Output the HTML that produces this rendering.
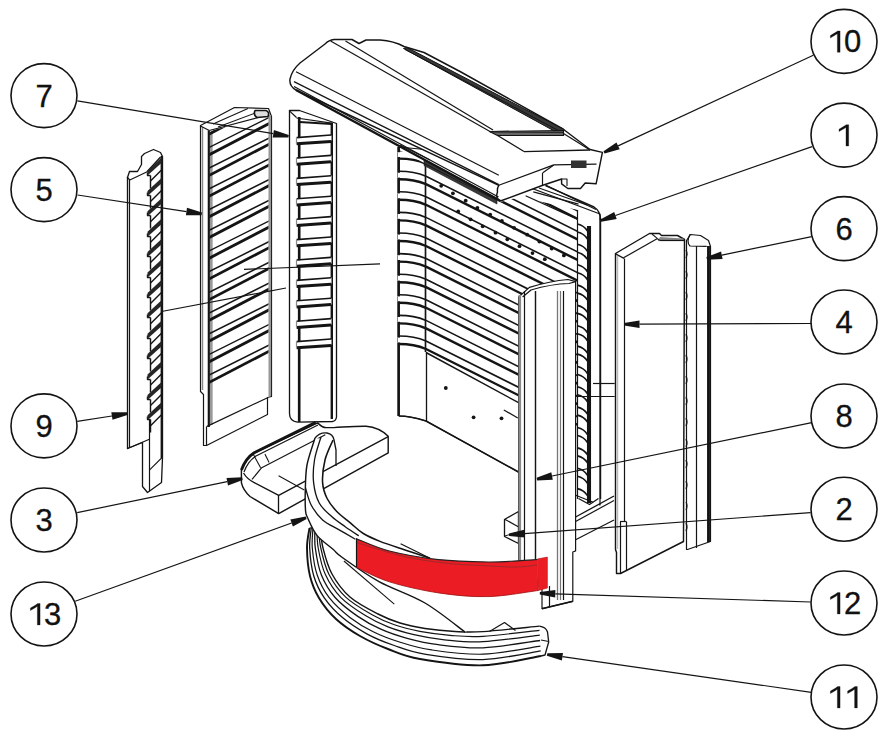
<!DOCTYPE html>
<html><head><meta charset="utf-8"><style>
html,body{margin:0;padding:0;background:#fff;}
body{width:892px;height:751px;overflow:hidden;font-family:"Liberation Sans",sans-serif;}
svg{display:block;}
</style></head><body>
<svg width="892" height="751" viewBox="0 0 892 751"><path d="M399,147 L430,150 L600,214 L600,505 L519,472.5 L426,421 Q410,416 399,416 Z" fill="#fff" stroke="#141414" stroke-width="1.20" stroke-linejoin="round" />
<line x1="398.6" y1="147.0" x2="398.6" y2="416.0" stroke="#141414" stroke-width="2.64" />
<line x1="425.5" y1="160.0" x2="425.5" y2="352.0" stroke="#141414" stroke-width="1.68" />
<polygon points="424,159.5 497,198 497,204 424,165.5" fill="#3a3a3a" stroke="#111" stroke-width="0.6"/>
<line x1="400.0" y1="145.0" x2="430.0" y2="160.0" stroke="#141414" stroke-width="1.20" />
<clipPath id="c1"><polygon points="399,150 500,202 520,197 578,210 578,505 520,470 426,352.5 399,352"/></clipPath>
<g clip-path="url(#c1)"><path d="M399,109.4 C410,109.4 419,111.4 426,114.4 L600,201.4" fill="none" stroke="#141414" stroke-width="1.6"/><path d="M399,117.4 C410,117.4 419,119.4 426,122.4 L600,209.4" fill="none" stroke="#141414" stroke-width="2.4"/><path d="M399,130.0 C410,130.0 419,132.0 426,135.0 L600,222.0" fill="none" stroke="#141414" stroke-width="1.6"/><path d="M399,138.0 C410,138.0 419,140.0 426,143.0 L600,230.0" fill="none" stroke="#141414" stroke-width="2.4"/><path d="M399,150.6 C410,150.6 419,152.6 426,155.6 L600,242.6" fill="none" stroke="#141414" stroke-width="1.6"/><path d="M399,158.6 C410,158.6 419,160.6 426,163.6 L600,250.6" fill="none" stroke="#141414" stroke-width="2.4"/><path d="M399,171.2 C410,171.2 419,173.2 426,176.2 L600,263.2" fill="none" stroke="#141414" stroke-width="1.6"/><path d="M399,179.2 C410,179.2 419,181.2 426,184.2 L600,271.2" fill="none" stroke="#141414" stroke-width="2.4"/><path d="M399,191.8 C410,191.8 419,193.8 426,196.8 L600,283.8" fill="none" stroke="#141414" stroke-width="1.6"/><path d="M399,199.8 C410,199.8 419,201.8 426,204.8 L600,291.8" fill="none" stroke="#141414" stroke-width="2.4"/><path d="M399,212.4 C410,212.4 419,214.4 426,217.4 L600,304.4" fill="none" stroke="#141414" stroke-width="1.6"/><path d="M399,220.4 C410,220.4 419,222.4 426,225.4 L600,312.4" fill="none" stroke="#141414" stroke-width="2.4"/><path d="M399,233.0 C410,233.0 419,235.0 426,238.0 L600,325.0" fill="none" stroke="#141414" stroke-width="1.6"/><path d="M399,241.0 C410,241.0 419,243.0 426,246.0 L600,333.0" fill="none" stroke="#141414" stroke-width="2.4"/><path d="M399,253.6 C410,253.6 419,255.6 426,258.6 L600,345.6" fill="none" stroke="#141414" stroke-width="1.6"/><path d="M399,261.6 C410,261.6 419,263.6 426,266.6 L600,353.6" fill="none" stroke="#141414" stroke-width="2.4"/><path d="M399,274.2 C410,274.2 419,276.2 426,279.2 L600,366.2" fill="none" stroke="#141414" stroke-width="1.6"/><path d="M399,282.2 C410,282.2 419,284.2 426,287.2 L600,374.2" fill="none" stroke="#141414" stroke-width="2.4"/><path d="M399,294.8 C410,294.8 419,296.8 426,299.8 L600,386.8" fill="none" stroke="#141414" stroke-width="1.6"/><path d="M399,302.8 C410,302.8 419,304.8 426,307.8 L600,394.8" fill="none" stroke="#141414" stroke-width="2.4"/><path d="M399,315.4 C410,315.4 419,317.4 426,320.4 L600,407.4" fill="none" stroke="#141414" stroke-width="1.6"/><path d="M399,323.4 C410,323.4 419,325.4 426,328.4 L600,415.4" fill="none" stroke="#141414" stroke-width="2.4"/><path d="M399,336.0 C410,336.0 419,338.0 426,341.0 L600,428.0" fill="none" stroke="#141414" stroke-width="1.6"/><path d="M399,344.0 C410,344.0 419,346.0 426,349.0 L600,436.0" fill="none" stroke="#141414" stroke-width="2.4"/></g>
<rect x="397" y="152.2" width="3.2" height="4.8" fill="#fff"/>
<line x1="397.5" y1="152.2" x2="397.5" y2="157.0" stroke="#888" stroke-width="1"/>
<rect x="397" y="172.8" width="3.2" height="4.8" fill="#fff"/>
<line x1="397.5" y1="172.8" x2="397.5" y2="177.6" stroke="#888" stroke-width="1"/>
<rect x="397" y="193.4" width="3.2" height="4.8" fill="#fff"/>
<line x1="397.5" y1="193.4" x2="397.5" y2="198.2" stroke="#888" stroke-width="1"/>
<rect x="397" y="214.0" width="3.2" height="4.8" fill="#fff"/>
<line x1="397.5" y1="214.0" x2="397.5" y2="218.8" stroke="#888" stroke-width="1"/>
<rect x="397" y="234.6" width="3.2" height="4.8" fill="#fff"/>
<line x1="397.5" y1="234.6" x2="397.5" y2="239.4" stroke="#888" stroke-width="1"/>
<rect x="397" y="255.2" width="3.2" height="4.8" fill="#fff"/>
<line x1="397.5" y1="255.2" x2="397.5" y2="260.0" stroke="#888" stroke-width="1"/>
<rect x="397" y="275.8" width="3.2" height="4.8" fill="#fff"/>
<line x1="397.5" y1="275.8" x2="397.5" y2="280.6" stroke="#888" stroke-width="1"/>
<rect x="397" y="296.4" width="3.2" height="4.8" fill="#fff"/>
<line x1="397.5" y1="296.4" x2="397.5" y2="301.2" stroke="#888" stroke-width="1"/>
<rect x="397" y="317.0" width="3.2" height="4.8" fill="#fff"/>
<line x1="397.5" y1="317.0" x2="397.5" y2="321.8" stroke="#888" stroke-width="1"/>
<rect x="397" y="337.6" width="3.2" height="4.8" fill="#fff"/>
<line x1="397.5" y1="337.6" x2="397.5" y2="342.4" stroke="#888" stroke-width="1"/>
<line x1="426.0" y1="352.5" x2="519.5" y2="403.2" stroke="#141414" stroke-width="1.44" />
<line x1="426.5" y1="352.0" x2="426.5" y2="421.0" stroke="#141414" stroke-width="1.32" />
<line x1="503.8" y1="409.9" x2="517.8" y2="417.9" stroke="#141414" stroke-width="1.20" />
<circle cx="441.2" cy="185.8" r="1.9" fill="#141414"/>
<circle cx="452.9" cy="193.3" r="1.9" fill="#141414"/>
<circle cx="465.7" cy="200.7" r="1.9" fill="#141414"/>
<circle cx="477.4" cy="207.8" r="1.9" fill="#141414"/>
<circle cx="490.2" cy="214.6" r="1.9" fill="#141414"/>
<circle cx="501.9" cy="221" r="1.9" fill="#141414"/>
<circle cx="514.1" cy="227.8" r="1.9" fill="#141414"/>
<circle cx="527.2" cy="234.7" r="1.9" fill="#141414"/>
<circle cx="539.4" cy="241.6" r="1.9" fill="#141414"/>
<circle cx="551.7" cy="248.5" r="1.9" fill="#141414"/>
<circle cx="563.9" cy="255.4" r="1.9" fill="#141414"/>
<circle cx="458.2" cy="211.4" r="1.9" fill="#141414"/>
<circle cx="470.6" cy="219.3" r="1.9" fill="#141414"/>
<circle cx="482.7" cy="226.3" r="1.9" fill="#141414"/>
<circle cx="495.5" cy="232.7" r="1.9" fill="#141414"/>
<circle cx="507.3" cy="239.3" r="1.9" fill="#141414"/>
<circle cx="519.5" cy="246.2" r="1.9" fill="#141414"/>
<circle cx="532.5" cy="253.1" r="1.9" fill="#141414"/>
<circle cx="544.8" cy="259.2" r="1.9" fill="#141414"/>
<circle cx="445.8" cy="388" r="1.9" fill="#141414"/>
<circle cx="473.6" cy="417.3" r="1.9" fill="#141414"/>
<circle cx="501.5" cy="418.3" r="1.9" fill="#141414"/>
<path d="M399,416 Q410,416 426,421 L519.5,472.5" fill="none" stroke="#141414" stroke-width="1.44" stroke-linejoin="round" />
<line x1="525.6" y1="195.7" x2="577.7" y2="219.4" stroke="#141414" stroke-width="1.20" />
<line x1="533.3" y1="191.8" x2="578.5" y2="204.1" stroke="#141414" stroke-width="1.20" />
<line x1="545.5" y1="185.0" x2="596.0" y2="209.5" stroke="#141414" stroke-width="1.20" />
<line x1="539.0" y1="188.0" x2="587.0" y2="205.0" stroke="#141414" stroke-width="1.20" />
<line x1="577.5" y1="210.0" x2="577.5" y2="499.0" stroke="#141414" stroke-width="1.20" />
<line x1="589.0" y1="226.0" x2="589.0" y2="503.0" stroke="#141414" stroke-width="4.08" />
<line x1="600.5" y1="218.0" x2="600.5" y2="499.0" stroke="#141414" stroke-width="1.44" />
<path d="M545.5,185.7 L594,207 Q600.5,211 600.5,220" fill="none" stroke="#141414" stroke-width="1.44" stroke-linejoin="round" />
<path d="M577.5,224.0 Q584,225.5 587.5,231.0" fill="none" stroke="#141414" stroke-width="1.68" stroke-linejoin="round" />
<path d="M577.5,232.0 Q584,233.5 587.5,239.0" fill="none" stroke="#141414" stroke-width="1.68" stroke-linejoin="round" />
<path d="M577.5,244.3 Q584,245.8 587.5,251.3" fill="none" stroke="#141414" stroke-width="1.68" stroke-linejoin="round" />
<path d="M577.5,252.3 Q584,253.8 587.5,259.4" fill="none" stroke="#141414" stroke-width="1.68" stroke-linejoin="round" />
<path d="M577.5,264.7 Q584,266.2 587.5,271.7" fill="none" stroke="#141414" stroke-width="1.68" stroke-linejoin="round" />
<path d="M577.5,272.7 Q584,274.2 587.5,279.7" fill="none" stroke="#141414" stroke-width="1.68" stroke-linejoin="round" />
<path d="M577.5,285.1 Q584,286.6 587.5,292.1" fill="none" stroke="#141414" stroke-width="1.68" stroke-linejoin="round" />
<path d="M577.5,293.1 Q584,294.6 587.5,300.1" fill="none" stroke="#141414" stroke-width="1.68" stroke-linejoin="round" />
<path d="M577.5,305.4 Q584,306.9 587.5,312.4" fill="none" stroke="#141414" stroke-width="1.68" stroke-linejoin="round" />
<path d="M577.5,313.4 Q584,314.9 587.5,320.4" fill="none" stroke="#141414" stroke-width="1.68" stroke-linejoin="round" />
<path d="M577.5,325.8 Q584,327.2 587.5,332.8" fill="none" stroke="#141414" stroke-width="1.68" stroke-linejoin="round" />
<path d="M577.5,333.8 Q584,335.2 587.5,340.8" fill="none" stroke="#141414" stroke-width="1.68" stroke-linejoin="round" />
<path d="M577.5,346.1 Q584,347.6 587.5,353.1" fill="none" stroke="#141414" stroke-width="1.68" stroke-linejoin="round" />
<path d="M577.5,354.1 Q584,355.6 587.5,361.1" fill="none" stroke="#141414" stroke-width="1.68" stroke-linejoin="round" />
<path d="M577.5,366.5 Q584,368.0 587.5,373.5" fill="none" stroke="#141414" stroke-width="1.68" stroke-linejoin="round" />
<path d="M577.5,374.5 Q584,376.0 587.5,381.5" fill="none" stroke="#141414" stroke-width="1.68" stroke-linejoin="round" />
<path d="M577.5,386.8 Q584,388.3 587.5,393.8" fill="none" stroke="#141414" stroke-width="1.68" stroke-linejoin="round" />
<path d="M577.5,394.8 Q584,396.3 587.5,401.8" fill="none" stroke="#141414" stroke-width="1.68" stroke-linejoin="round" />
<path d="M577.5,407.1 Q584,408.6 587.5,414.1" fill="none" stroke="#141414" stroke-width="1.68" stroke-linejoin="round" />
<path d="M577.5,415.1 Q584,416.6 587.5,422.1" fill="none" stroke="#141414" stroke-width="1.68" stroke-linejoin="round" />
<path d="M577.5,427.5 Q584,429.0 587.5,434.5" fill="none" stroke="#141414" stroke-width="1.68" stroke-linejoin="round" />
<path d="M577.5,435.5 Q584,437.0 587.5,442.5" fill="none" stroke="#141414" stroke-width="1.68" stroke-linejoin="round" />
<path d="M577.5,447.9 Q584,449.4 587.5,454.9" fill="none" stroke="#141414" stroke-width="1.68" stroke-linejoin="round" />
<path d="M577.5,455.9 Q584,457.4 587.5,462.9" fill="none" stroke="#141414" stroke-width="1.68" stroke-linejoin="round" />
<path d="M577.5,468.2 Q584,469.7 587.5,475.2" fill="none" stroke="#141414" stroke-width="1.68" stroke-linejoin="round" />
<path d="M577.5,476.2 Q584,477.7 587.5,483.2" fill="none" stroke="#141414" stroke-width="1.68" stroke-linejoin="round" />
<path d="M577.5,488.6 Q584,490.1 587.5,495.6" fill="none" stroke="#141414" stroke-width="1.68" stroke-linejoin="round" />
<line x1="593.0" y1="383.5" x2="614.7" y2="383.5" stroke="#141414" stroke-width="1.20" />
<line x1="575.0" y1="396.5" x2="614.7" y2="396.5" stroke="#141414" stroke-width="1.20" />
<polygon points="577.7,498.7 589.6,504.3 599,498.7 599,506 578,506" fill="#fff" stroke="none"/>
<polyline points="578.5,498.5 589.5,504.5 598.5,498.5" fill="none" stroke="#141414" stroke-width="1.32" stroke-linejoin="round" />
<line x1="575.6" y1="517.0" x2="614.0" y2="496.0" stroke="#141414" stroke-width="1.32" />
<line x1="575.6" y1="521.5" x2="614.0" y2="500.5" stroke="#141414" stroke-width="1.20" />
<line x1="575.6" y1="539.7" x2="614.0" y2="520.0" stroke="#141414" stroke-width="1.20" />
<path d="M334,39.5 L352,39.5 L359,43.5 L366,40 L380,40 Q394,41 404,46.5 L424,52.5 L460,71.5 L563,129 L590,149.5 L602.4,152.4 L596.1,183.8 L585.2,183 L580.5,188.5 L567.9,188.5 L561.6,183.8 L561.6,179 L542.8,185.3 L500.4,201 Q495,198 497.5,192 Q497,188 498.8,185.3 L296,90 Q289,86 290,79 Q292,70 300,63 L325,44 Q329,40 334,39.5 Z" fill="#fff" stroke="#141414" stroke-width="1.44" stroke-linejoin="round" />
<line x1="296.0" y1="90.0" x2="500.4" y2="201.0" stroke="#141414" stroke-width="2.40" />
<line x1="294.0" y1="86.5" x2="498.5" y2="197.0" stroke="#141414" stroke-width="1.20" />
<line x1="296.0" y1="71.7" x2="498.8" y2="175.2" stroke="#141414" stroke-width="1.20" />
<line x1="294.0" y1="81.6" x2="498.8" y2="184.6" stroke="#141414" stroke-width="1.20" />
<line x1="345.5" y1="41.0" x2="493.0" y2="130.0" stroke="#141414" stroke-width="1.20" />
<line x1="330.6" y1="41.0" x2="490.0" y2="131.5" stroke="#141414" stroke-width="1.20" />
<line x1="497.6" y1="135.4" x2="524.0" y2="151.6" stroke="#141414" stroke-width="1.20" />
<polygon points="403.5,48.5 407,47.5 564,129.5 562.5,135.5" fill="#383838" stroke="#141414" stroke-width="1.0"/>
<line x1="405.0" y1="49.5" x2="563.0" y2="133.0" stroke="#111" stroke-width="0.84" />
<polygon points="489.5,131.5 563.5,130.5 563.5,135.5 497.5,135.5" fill="#666" stroke="#141414" stroke-width="1.20" stroke-linejoin="round" />
<line x1="489.8" y1="132.0" x2="563.8" y2="132.5" stroke="#222" stroke-width="0.96" />
<line x1="524.0" y1="151.6" x2="590.0" y2="150.0" stroke="#141414" stroke-width="1.44" />
<line x1="563.5" y1="133.5" x2="590.0" y2="150.0" stroke="#141414" stroke-width="1.20" />
<line x1="498.8" y1="185.3" x2="553.8" y2="164.9" stroke="#141414" stroke-width="1.20" />
<line x1="542.5" y1="172.8" x2="542.5" y2="185.3" stroke="#141414" stroke-width="1.20" />
<line x1="553.8" y1="164.9" x2="596.5" y2="164.2" stroke="#141414" stroke-width="1.20" />
<line x1="542.8" y1="172.8" x2="553.8" y2="164.9" stroke="#141414" stroke-width="1.20" />
<path d="M561.6,179 L567,179 L567,186" fill="none" stroke="#141414" stroke-width="1.08" stroke-linejoin="round" />
<rect x="571" y="160.5" width="15.5" height="7.5" fill="#333"/>
<polygon points="127.5,177.5 129.5,171.5 137.5,171.5 141.5,164.5 141.5,156.5 144.5,153.5 153.5,149.5 160.5,152.5 162.5,156.5 162.5,457.5 161.5,482.5 147.5,492.5 142.5,486.5 142.5,442.5 127.5,448.5" fill="#fff" stroke="#141414" stroke-width="1.32" stroke-linejoin="round" />
<line x1="129.5" y1="180.0" x2="129.5" y2="447.5" stroke="#141414" stroke-width="1.20" />
<line x1="127.0" y1="177.0" x2="129.8" y2="180.0" stroke="#141414" stroke-width="1.20" />
<path d="M129.8,180 L146.7,172 L160.5,157" fill="none" stroke="#141414" stroke-width="1.20" stroke-linejoin="round" />
<line x1="161.8" y1="156.0" x2="161.8" y2="458.0" stroke="#141414" stroke-width="2.40" />
<line x1="149.5" y1="420.0" x2="149.5" y2="491.4" stroke="#141414" stroke-width="1.20" />
<line x1="149.4" y1="470.1" x2="162.2" y2="457.3" stroke="#141414" stroke-width="1.20" />
<line x1="127.0" y1="448.8" x2="149.4" y2="439.2" stroke="#141414" stroke-width="1.20" />
<polyline points="150.5,175.5 150.5,188.5" fill="none" stroke="#141414" stroke-width="1.44" stroke-linejoin="round" />
<polyline points="150.5,175.5 147.5,175.5 147.5,172.5" fill="none" stroke="#141414" stroke-width="1.44" stroke-linejoin="round" />
<polygon points="147.5,175.5 147.5,170.5 161.5,157.5 161.5,163.0" fill="#262626"/>
<line x1="150.5" y1="181.0" x2="161.5" y2="170.0" stroke="#141414" stroke-width="1.44" />
<polyline points="150.5,195.5 150.5,208.5" fill="none" stroke="#141414" stroke-width="1.44" stroke-linejoin="round" />
<polyline points="150.5,195.5 147.5,195.5 147.5,192.5" fill="none" stroke="#141414" stroke-width="1.44" stroke-linejoin="round" />
<polygon points="147.5,195.9 147.5,190.9 161.5,177.9 161.5,183.4" fill="#262626"/>
<line x1="150.5" y1="201.4" x2="161.5" y2="190.4" stroke="#141414" stroke-width="1.44" />
<polyline points="150.5,215.5 150.5,228.5" fill="none" stroke="#141414" stroke-width="1.44" stroke-linejoin="round" />
<polyline points="150.5,215.5 147.5,215.5 147.5,212.5" fill="none" stroke="#141414" stroke-width="1.44" stroke-linejoin="round" />
<polygon points="147.5,216.3 147.5,211.3 161.5,198.3 161.5,203.8" fill="#262626"/>
<line x1="150.5" y1="221.8" x2="161.5" y2="210.8" stroke="#141414" stroke-width="1.44" />
<polyline points="150.5,236.5 150.5,249.5" fill="none" stroke="#141414" stroke-width="1.44" stroke-linejoin="round" />
<polyline points="150.5,236.5 147.5,236.5 147.5,233.5" fill="none" stroke="#141414" stroke-width="1.44" stroke-linejoin="round" />
<polygon points="147.5,236.7 147.5,231.7 161.5,218.7 161.5,224.2" fill="#262626"/>
<line x1="150.5" y1="242.2" x2="161.5" y2="231.2" stroke="#141414" stroke-width="1.44" />
<polyline points="150.5,256.5 150.5,269.5" fill="none" stroke="#141414" stroke-width="1.44" stroke-linejoin="round" />
<polyline points="150.5,256.5 147.5,256.5 147.5,253.5" fill="none" stroke="#141414" stroke-width="1.44" stroke-linejoin="round" />
<polygon points="147.5,257.1 147.5,252.1 161.5,239.1 161.5,244.6" fill="#262626"/>
<line x1="150.5" y1="262.6" x2="161.5" y2="251.6" stroke="#141414" stroke-width="1.44" />
<polyline points="150.5,277.5 150.5,290.5" fill="none" stroke="#141414" stroke-width="1.44" stroke-linejoin="round" />
<polyline points="150.5,277.5 147.5,277.5 147.5,274.5" fill="none" stroke="#141414" stroke-width="1.44" stroke-linejoin="round" />
<polygon points="147.5,277.5 147.5,272.5 161.5,259.5 161.5,265.0" fill="#262626"/>
<line x1="150.5" y1="283.0" x2="161.5" y2="272.0" stroke="#141414" stroke-width="1.44" />
<polyline points="150.5,297.5 150.5,310.5" fill="none" stroke="#141414" stroke-width="1.44" stroke-linejoin="round" />
<polyline points="150.5,297.5 147.5,297.5 147.5,294.5" fill="none" stroke="#141414" stroke-width="1.44" stroke-linejoin="round" />
<polygon points="147.5,297.9 147.5,292.9 161.5,279.9 161.5,285.4" fill="#262626"/>
<line x1="150.5" y1="303.4" x2="161.5" y2="292.4" stroke="#141414" stroke-width="1.44" />
<polyline points="150.5,317.5 150.5,330.5" fill="none" stroke="#141414" stroke-width="1.44" stroke-linejoin="round" />
<polyline points="150.5,317.5 147.5,317.5 147.5,314.5" fill="none" stroke="#141414" stroke-width="1.44" stroke-linejoin="round" />
<polygon points="147.5,318.3 147.5,313.3 161.5,300.3 161.5,305.8" fill="#262626"/>
<line x1="150.5" y1="323.8" x2="161.5" y2="312.8" stroke="#141414" stroke-width="1.44" />
<polyline points="150.5,338.5 150.5,351.5" fill="none" stroke="#141414" stroke-width="1.44" stroke-linejoin="round" />
<polyline points="150.5,338.5 147.5,338.5 147.5,335.5" fill="none" stroke="#141414" stroke-width="1.44" stroke-linejoin="round" />
<polygon points="147.5,338.7 147.5,333.7 161.5,320.7 161.5,326.2" fill="#262626"/>
<line x1="150.5" y1="344.2" x2="161.5" y2="333.2" stroke="#141414" stroke-width="1.44" />
<polyline points="150.5,358.5 150.5,371.5" fill="none" stroke="#141414" stroke-width="1.44" stroke-linejoin="round" />
<polyline points="150.5,358.5 147.5,358.5 147.5,355.5" fill="none" stroke="#141414" stroke-width="1.44" stroke-linejoin="round" />
<polygon points="147.5,359.1 147.5,354.1 161.5,341.1 161.5,346.6" fill="#262626"/>
<line x1="150.5" y1="364.6" x2="161.5" y2="353.6" stroke="#141414" stroke-width="1.44" />
<polyline points="150.5,379.5 150.5,392.5" fill="none" stroke="#141414" stroke-width="1.44" stroke-linejoin="round" />
<polyline points="150.5,379.5 147.5,379.5 147.5,376.5" fill="none" stroke="#141414" stroke-width="1.44" stroke-linejoin="round" />
<polygon points="147.5,379.5 147.5,374.5 161.5,361.5 161.5,367.0" fill="#262626"/>
<line x1="150.5" y1="385.0" x2="161.5" y2="374.0" stroke="#141414" stroke-width="1.44" />
<polyline points="150.5,399.5 150.5,412.5" fill="none" stroke="#141414" stroke-width="1.44" stroke-linejoin="round" />
<polyline points="150.5,399.5 147.5,399.5 147.5,396.5" fill="none" stroke="#141414" stroke-width="1.44" stroke-linejoin="round" />
<polygon points="147.5,399.9 147.5,394.9 161.5,381.9 161.5,387.4" fill="#262626"/>
<line x1="150.5" y1="405.4" x2="161.5" y2="394.4" stroke="#141414" stroke-width="1.44" />
<polyline points="150.5,419.5 150.5,432.5" fill="none" stroke="#141414" stroke-width="1.44" stroke-linejoin="round" />
<polyline points="150.5,419.5 147.5,419.5 147.5,416.5" fill="none" stroke="#141414" stroke-width="1.44" stroke-linejoin="round" />
<polygon points="147.5,420.3 147.5,415.3 161.5,402.3 161.5,407.8" fill="#262626"/>
<line x1="150.5" y1="425.8" x2="161.5" y2="414.8" stroke="#141414" stroke-width="1.44" />
<polygon points="200.5,125.5 234.5,107.5 268.5,108.5 271.5,116.5 271.5,396.5 267.5,397.5 267.5,414.5 206.5,445.5 203.5,445.5 203.5,394.5 200.5,391.5" fill="#fff" stroke="#141414" stroke-width="1.20" stroke-linejoin="round" />
<line x1="202.5" y1="127.0" x2="202.5" y2="390.0" stroke="#888" stroke-width="1.44" />
<line x1="211.2" y1="132.0" x2="211.2" y2="425.0" stroke="#999" stroke-width="2.88" />
<line x1="269.8" y1="115.0" x2="269.8" y2="396.0" stroke="#999" stroke-width="2.64" />
<line x1="208.8" y1="130.5" x2="208.8" y2="427.0" stroke="#141414" stroke-width="2.16" />
<line x1="209.3" y1="130.5" x2="268.0" y2="115.0" stroke="#141414" stroke-width="1.20" />
<line x1="200.0" y1="125.8" x2="209.3" y2="130.5" stroke="#141414" stroke-width="1.20" />
<line x1="213.0" y1="124.0" x2="248.0" y2="108.5" stroke="#141414" stroke-width="1.08" />
<line x1="218.0" y1="127.0" x2="262.0" y2="110.5" stroke="#141414" stroke-width="1.08" />
<path d="M255,110.5 L266,110.5 Q270,112 268,116.5 L257,117.5 Q253,115 255,110.5 Z" fill="#ddd" stroke="#141414" stroke-width="1.68" stroke-linejoin="round" />
<line x1="206.9" y1="426.4" x2="267.6" y2="397.7" stroke="#141414" stroke-width="1.20" />
<line x1="206.5" y1="426.4" x2="206.5" y2="445.6" stroke="#141414" stroke-width="1.20" />
<clipPath id="c5"><polygon points="209.5,131 268.5,116 268.5,398 209.5,427"/></clipPath>
<g clip-path="url(#c5)"><line x1="205" y1="136.2" x2="272" y2="101.3" stroke="#141414" stroke-width="2.8"/><line x1="205" y1="128.8" x2="272" y2="95.3" stroke="#141414" stroke-width="1.5"/><line x1="205" y1="156.9" x2="272" y2="122.0" stroke="#141414" stroke-width="2.8"/><line x1="205" y1="149.5" x2="272" y2="116.0" stroke="#141414" stroke-width="1.5"/><line x1="205" y1="177.6" x2="272" y2="142.7" stroke="#141414" stroke-width="2.8"/><line x1="205" y1="170.2" x2="272" y2="136.7" stroke="#141414" stroke-width="1.5"/><line x1="205" y1="198.3" x2="272" y2="163.4" stroke="#141414" stroke-width="2.8"/><line x1="205" y1="190.9" x2="272" y2="157.4" stroke="#141414" stroke-width="1.5"/><line x1="205" y1="219.0" x2="272" y2="184.1" stroke="#141414" stroke-width="2.8"/><line x1="205" y1="211.6" x2="272" y2="178.1" stroke="#141414" stroke-width="1.5"/><line x1="205" y1="239.7" x2="272" y2="204.8" stroke="#141414" stroke-width="2.8"/><line x1="205" y1="232.3" x2="272" y2="198.8" stroke="#141414" stroke-width="1.5"/><line x1="205" y1="260.4" x2="272" y2="225.5" stroke="#141414" stroke-width="2.8"/><line x1="205" y1="253.0" x2="272" y2="219.5" stroke="#141414" stroke-width="1.5"/><line x1="205" y1="281.1" x2="272" y2="246.2" stroke="#141414" stroke-width="2.8"/><line x1="205" y1="273.7" x2="272" y2="240.2" stroke="#141414" stroke-width="1.5"/><line x1="205" y1="301.8" x2="272" y2="266.9" stroke="#141414" stroke-width="2.8"/><line x1="205" y1="294.4" x2="272" y2="260.9" stroke="#141414" stroke-width="1.5"/><line x1="205" y1="322.5" x2="272" y2="287.6" stroke="#141414" stroke-width="2.8"/><line x1="205" y1="315.1" x2="272" y2="281.6" stroke="#141414" stroke-width="1.5"/><line x1="205" y1="343.2" x2="272" y2="308.3" stroke="#141414" stroke-width="2.8"/><line x1="205" y1="335.8" x2="272" y2="302.3" stroke="#141414" stroke-width="1.5"/><line x1="205" y1="363.9" x2="272" y2="329.0" stroke="#141414" stroke-width="2.8"/><line x1="205" y1="356.5" x2="272" y2="323.0" stroke="#141414" stroke-width="1.5"/><line x1="205" y1="384.6" x2="272" y2="349.7" stroke="#141414" stroke-width="2.8"/><line x1="205" y1="377.2" x2="272" y2="343.7" stroke="#141414" stroke-width="1.5"/></g>
<path d="M289.5,110.5 L299.5,110.5 L336.5,123.5 L336.5,417 Q336,421 332.5,421.5 L297.5,422.2 Q289.5,421 289.5,413.5 Z" fill="#fff" stroke="#141414" stroke-width="1.32" stroke-linejoin="round" />
<line x1="299.2" y1="117.0" x2="299.2" y2="422.0" stroke="#141414" stroke-width="2.64" />
<line x1="331.8" y1="122.5" x2="331.8" y2="419.0" stroke="#141414" stroke-width="2.40" />
<line x1="289.2" y1="110.6" x2="296.5" y2="117.5" stroke="#141414" stroke-width="1.20" />
<line x1="296.5" y1="118.0" x2="331.6" y2="123.2" stroke="#141414" stroke-width="1.20" />
<line x1="299.5" y1="122.0" x2="331.6" y2="124.0" stroke="#141414" stroke-width="2.16" />
<polygon points="296.5,137.5 331.5,135.5 331.5,140.5 296.5,143.5" fill="#fff" stroke="#141414" stroke-width="0.00" stroke-linejoin="round" stroke="none"/>
<line x1="296.6" y1="137.6" x2="331.0" y2="135.0" stroke="#141414" stroke-width="1.56" />
<line x1="296.6" y1="143.8" x2="331.0" y2="141.4" stroke="#141414" stroke-width="3.00" />
<line x1="296.5" y1="137.6" x2="296.5" y2="143.6" stroke="#888" stroke-width="1.20" />
<polygon points="296.5,158.5 331.5,155.5 331.5,161.5 296.5,163.5" fill="#fff" stroke="#141414" stroke-width="0.00" stroke-linejoin="round" stroke="none"/>
<line x1="296.6" y1="158.0" x2="331.0" y2="155.4" stroke="#141414" stroke-width="1.56" />
<line x1="296.6" y1="164.2" x2="331.0" y2="161.8" stroke="#141414" stroke-width="3.00" />
<line x1="296.5" y1="158.0" x2="296.5" y2="164.0" stroke="#888" stroke-width="1.20" />
<polygon points="296.5,178.5 331.5,175.5 331.5,181.5 296.5,184.5" fill="#fff" stroke="#141414" stroke-width="0.00" stroke-linejoin="round" stroke="none"/>
<line x1="296.6" y1="178.4" x2="331.0" y2="175.8" stroke="#141414" stroke-width="1.56" />
<line x1="296.6" y1="184.6" x2="331.0" y2="182.2" stroke="#141414" stroke-width="3.00" />
<line x1="296.5" y1="178.4" x2="296.5" y2="184.4" stroke="#888" stroke-width="1.20" />
<polygon points="296.5,198.5 331.5,196.5 331.5,202.5 296.5,204.5" fill="#fff" stroke="#141414" stroke-width="0.00" stroke-linejoin="round" stroke="none"/>
<line x1="296.6" y1="198.8" x2="331.0" y2="196.2" stroke="#141414" stroke-width="1.56" />
<line x1="296.6" y1="205.0" x2="331.0" y2="202.6" stroke="#141414" stroke-width="3.00" />
<line x1="296.5" y1="198.8" x2="296.5" y2="204.8" stroke="#888" stroke-width="1.20" />
<polygon points="296.5,219.5 331.5,216.5 331.5,222.5 296.5,225.5" fill="#fff" stroke="#141414" stroke-width="0.00" stroke-linejoin="round" stroke="none"/>
<line x1="296.6" y1="219.2" x2="331.0" y2="216.6" stroke="#141414" stroke-width="1.56" />
<line x1="296.6" y1="225.4" x2="331.0" y2="223.0" stroke="#141414" stroke-width="3.00" />
<line x1="296.5" y1="219.2" x2="296.5" y2="225.2" stroke="#888" stroke-width="1.20" />
<polygon points="296.5,239.5 331.5,237.5 331.5,242.5 296.5,245.5" fill="#fff" stroke="#141414" stroke-width="0.00" stroke-linejoin="round" stroke="none"/>
<line x1="296.6" y1="239.6" x2="331.0" y2="237.0" stroke="#141414" stroke-width="1.56" />
<line x1="296.6" y1="245.8" x2="331.0" y2="243.4" stroke="#141414" stroke-width="3.00" />
<line x1="296.5" y1="239.6" x2="296.5" y2="245.6" stroke="#888" stroke-width="1.20" />
<polygon points="296.5,260.5 331.5,257.5 331.5,263.5 296.5,265.5" fill="#fff" stroke="#141414" stroke-width="0.00" stroke-linejoin="round" stroke="none"/>
<line x1="296.6" y1="260.0" x2="331.0" y2="257.4" stroke="#141414" stroke-width="1.56" />
<line x1="296.6" y1="266.2" x2="331.0" y2="263.8" stroke="#141414" stroke-width="3.00" />
<line x1="296.5" y1="260.0" x2="296.5" y2="266.0" stroke="#888" stroke-width="1.20" />
<polygon points="296.5,280.5 331.5,277.5 331.5,283.5 296.5,286.5" fill="#fff" stroke="#141414" stroke-width="0.00" stroke-linejoin="round" stroke="none"/>
<line x1="296.6" y1="280.4" x2="331.0" y2="277.8" stroke="#141414" stroke-width="1.56" />
<line x1="296.6" y1="286.6" x2="331.0" y2="284.2" stroke="#141414" stroke-width="3.00" />
<line x1="296.5" y1="280.4" x2="296.5" y2="286.4" stroke="#888" stroke-width="1.20" />
<polygon points="296.5,300.5 331.5,298.5 331.5,304.5 296.5,306.5" fill="#fff" stroke="#141414" stroke-width="0.00" stroke-linejoin="round" stroke="none"/>
<line x1="296.6" y1="300.8" x2="331.0" y2="298.2" stroke="#141414" stroke-width="1.56" />
<line x1="296.6" y1="307.0" x2="331.0" y2="304.6" stroke="#141414" stroke-width="3.00" />
<line x1="296.5" y1="300.8" x2="296.5" y2="306.8" stroke="#888" stroke-width="1.20" />
<polygon points="296.5,321.5 331.5,318.5 331.5,324.5 296.5,327.5" fill="#fff" stroke="#141414" stroke-width="0.00" stroke-linejoin="round" stroke="none"/>
<line x1="296.6" y1="321.2" x2="331.0" y2="318.6" stroke="#141414" stroke-width="1.56" />
<line x1="296.6" y1="327.4" x2="331.0" y2="325.0" stroke="#141414" stroke-width="3.00" />
<line x1="296.5" y1="321.2" x2="296.5" y2="327.2" stroke="#888" stroke-width="1.20" />
<polygon points="296.5,341.5 331.5,339.5 331.5,344.5 296.5,347.5" fill="#fff" stroke="#141414" stroke-width="0.00" stroke-linejoin="round" stroke="none"/>
<line x1="296.6" y1="341.6" x2="331.0" y2="339.0" stroke="#141414" stroke-width="1.56" />
<line x1="296.6" y1="347.8" x2="331.0" y2="345.4" stroke="#141414" stroke-width="3.00" />
<line x1="296.5" y1="341.6" x2="296.5" y2="347.6" stroke="#888" stroke-width="1.20" />
<polygon points="504.5,519.5 518.5,511.5 518.5,543.5 504.5,536.5" fill="#fff" stroke="#141414" stroke-width="1.32" stroke-linejoin="round" />
<line x1="504.7" y1="519.2" x2="518.7" y2="527.0" stroke="#141414" stroke-width="1.20" />
<line x1="504.7" y1="536.0" x2="518.7" y2="532.0" stroke="#141414" stroke-width="0.96" />
<path d="M518.7,297 L529.4,287.4 Q550,281 568,279.5 L575.6,281.7 L575.6,550.9 L572.8,552 L572.8,601.3 L542,608.7 L542,586 L518.7,586 Z" fill="#fff" stroke="#141414" stroke-width="1.20" stroke-linejoin="round" />
<line x1="519.8" y1="295" x2="519.8" y2="586" stroke="#8a8a8a" stroke-width="2.6"/>
<line x1="524.5" y1="291.0" x2="524.5" y2="586.0" stroke="#141414" stroke-width="1.20" />
<line x1="535.5" y1="291.0" x2="535.5" y2="586.0" stroke="#141414" stroke-width="1.44" />
<line x1="557.5" y1="291.0" x2="557.5" y2="600.0" stroke="#777" stroke-width="1.32" />
<line x1="560.5" y1="291.0" x2="560.5" y2="600.0" stroke="#777" stroke-width="1.20" />
<line x1="563.5" y1="291.0" x2="563.5" y2="600.0" stroke="#141414" stroke-width="1.20" />
<line x1="549.5" y1="586.0" x2="549.5" y2="606.8" stroke="#141414" stroke-width="1.20" />
<line x1="542.0" y1="608.7" x2="572.8" y2="601.3" stroke="#141414" stroke-width="1.44" />
<path d="M522.6,297 L531,290 Q551,284 569,283.5 L575.6,281.7" fill="none" stroke="#141414" stroke-width="1.20" stroke-linejoin="round" />
<path d="M241.4,469.9 Q246,458 254.2,452.8 L317.7,422.9 C320,425 322,427.6 326,427.6 L333.8,427.6 C345,427 355,426 366.1,426.2 C375,427 383,431 388.2,436.2 L388.2,452.9 L278.7,513.6 L250,496.5 Q243,490 241.4,482.6 Z" fill="#fff" stroke="#141414" stroke-width="1.44" stroke-linejoin="round" />
<path d="M241.4,469.9 Q246,458 254.2,452.8 L315.8,422.4" fill="none" stroke="#141414" stroke-width="2.88" stroke-linejoin="round" />
<path d="M244,472 Q248,461 256,456 L318,425" fill="none" stroke="#141414" stroke-width="1.20" stroke-linejoin="round" />
<path d="M243.5,473 Q247,479 254.2,482.6 L278.7,495.4 L388.2,436.7" fill="none" stroke="#141414" stroke-width="1.32" stroke-linejoin="round" />
<line x1="278.5" y1="495.4" x2="278.5" y2="513.6" stroke="#141414" stroke-width="1.32" />
<path d="M252,479.4 L261.7,467.7 L325.3,434.8" fill="none" stroke="#141414" stroke-width="1.20" stroke-linejoin="round" />
<line x1="253.1" y1="453.9" x2="260.6" y2="467.7" stroke="#141414" stroke-width="1.08" />
<line x1="264.9" y1="453.9" x2="269.1" y2="462.4" stroke="#141414" stroke-width="1.08" />
<line x1="278.6" y1="475.8" x2="304.3" y2="490.0" stroke="#141414" stroke-width="1.08" />
<clipPath id="c11"><polygon points="250,480 305.3,480 305.3,490 305.5,510 307.4,517.3 317,535.4 333,549.3 343,558 379,581.6 425,603 465.5,632.4 470,626 600,600 600,720 250,720"/></clipPath>
<g clip-path="url(#c11)">
<path d="M309.5,528.0 C309.1,531.3 306.9,540.0 307.0,548.0 C307.1,556.0 308.0,567.7 310.0,576.0 C312.0,584.3 314.7,590.8 319.0,598.0 C323.3,605.2 329.2,612.7 336.0,619.0 C342.8,625.3 351.3,631.0 360.0,636.0 C368.7,641.0 378.0,645.2 388.0,649.0 C398.0,652.8 404.2,656.3 420.0,659.0 C435.8,661.7 462.8,665.8 483.0,665.3 C503.2,664.8 531.3,657.5 541.0,656.0 L539.3,626.1 L539.3,626.1 C529.9,627.0 497.1,630.7 483.0,631.6 C468.9,632.5 464.7,632.0 455.0,631.5 C445.3,631.0 434.2,629.9 425.0,628.5 C415.8,627.1 407.8,625.4 400.0,623.0 C392.2,620.6 386.3,618.3 378.0,614.0 C369.7,609.7 357.7,603.7 350.0,597.0 C342.3,590.3 336.5,582.2 332.0,574.0 C327.5,565.8 325.0,555.8 323.0,548.0 C321.0,540.2 320.5,530.5 320.0,527.0 Z" fill="#fff" stroke="none"/>
<path d="M309.5,528.0 C309.1,531.3 306.9,540.0 307.0,548.0 C307.1,556.0 308.0,567.7 310.0,576.0 C312.0,584.3 314.7,590.8 319.0,598.0 C323.3,605.2 329.2,612.7 336.0,619.0 C342.8,625.3 351.3,631.0 360.0,636.0 C368.7,641.0 378.0,645.2 388.0,649.0 C398.0,652.8 404.2,656.3 420.0,659.0 C435.8,661.7 462.8,665.8 483.0,665.3 C503.2,664.8 531.3,657.5 541.0,656.0" fill="none" stroke="#141414" stroke-width="1.92" stroke-linejoin="round" />
<path d="M311.3,527.8 C311.0,531.2 309.3,540.0 309.7,548.0 C310.1,556.0 311.3,567.4 313.7,575.7 C316.2,584.0 319.4,590.7 324.3,597.8 C329.2,604.9 336.1,612.2 343.1,618.1 C350.2,624.1 358.3,629.2 366.8,633.8 C375.3,638.4 384.4,642.1 394.3,645.5 C404.1,648.9 411.2,652.0 425.9,654.3 C440.7,656.7 463.9,660.1 483.0,659.6 C502.1,659.0 531.1,652.4 540.7,650.9" fill="none" stroke="#141414" stroke-width="1.32" stroke-linejoin="round" />
<path d="M313.0,527.7 C312.9,531.1 311.6,540.1 312.3,548.0 C313.0,555.9 314.4,567.1 317.3,575.3 C320.1,583.6 323.8,590.7 329.2,597.7 C334.7,604.7 342.5,611.7 349.9,617.4 C357.2,623.0 364.8,627.6 373.2,631.7 C381.6,635.9 390.5,639.2 400.2,642.2 C409.9,645.3 417.8,647.9 431.6,649.9 C445.3,651.9 464.9,654.8 483.0,654.2 C501.1,653.5 530.9,647.5 540.4,646.1" fill="none" stroke="#141414" stroke-width="1.20" stroke-linejoin="round" />
<path d="M315.0,527.5 C315.0,530.9 314.2,540.1 315.3,548.0 C316.4,555.9 318.1,566.7 321.4,575.0 C324.7,583.2 329.1,590.6 335.1,597.5 C341.2,604.4 350.2,611.1 357.8,616.4 C365.5,621.7 372.6,625.6 380.8,629.2 C389.0,632.9 397.7,635.8 407.2,638.3 C416.8,640.9 425.6,643.1 438.2,644.7 C450.8,646.3 466.0,648.5 483.0,647.8 C500.0,647.1 530.6,641.7 540.1,640.5" fill="none" stroke="#141414" stroke-width="1.32" stroke-linejoin="round" />
<path d="M316.9,527.3 C317.1,530.8 316.8,540.1 318.2,548.0 C319.6,555.9 321.6,566.4 325.4,574.6 C329.1,582.8 334.0,590.5 340.7,597.3 C347.4,604.1 357.5,610.6 365.4,615.5 C373.3,620.4 379.9,623.7 388.0,626.9 C396.1,630.1 404.5,632.5 413.9,634.6 C423.3,636.8 433.0,638.6 444.5,639.8 C456.0,640.9 467.1,642.5 483.0,641.7 C498.9,640.9 530.3,636.2 539.8,635.1" fill="none" stroke="#141414" stroke-width="1.20" stroke-linejoin="round" />
<path d="M318.5,527.1 C318.9,530.6 319.0,540.1 320.8,548.0 C322.5,555.9 324.8,566.1 328.9,574.3 C333.1,582.5 338.5,590.4 345.7,597.1 C352.9,603.9 364.0,610.1 372.1,614.7 C380.2,619.3 386.4,622.0 394.4,624.8 C402.3,627.6 410.5,629.6 419.8,631.4 C429.1,633.1 439.6,634.5 450.1,635.4 C460.6,636.2 468.1,637.2 483.0,636.3 C497.9,635.5 530.1,631.3 539.5,630.3" fill="none" stroke="#141414" stroke-width="1.20" stroke-linejoin="round" />
<path d="M320.0,527.0 C320.5,530.5 321.0,540.2 323.0,548.0 C325.0,555.8 327.5,565.8 332.0,574.0 C336.5,582.2 342.3,590.3 350.0,597.0 C357.7,603.7 369.7,609.7 378.0,614.0 C386.3,618.3 392.2,620.6 400.0,623.0 C407.8,625.4 415.8,627.1 425.0,628.5 C434.2,629.9 445.3,631.0 455.0,631.5 C464.7,632.0 468.9,632.5 483.0,631.6 C497.1,630.7 529.9,627.0 539.3,626.1" fill="none" stroke="#141414" stroke-width="1.44" stroke-linejoin="round" />
<line x1="309.5" y1="528.0" x2="320.0" y2="527.0" stroke="#141414" stroke-width="1.20" />
</g>
<path d="M539.3,626.1 Q546,627 547.5,632 L548.7,642 L545,655 L541,656" fill="none" stroke="#141414" stroke-width="1.32" stroke-linejoin="round" />
<line x1="541.0" y1="640.0" x2="548.7" y2="641.5" stroke="#141414" stroke-width="1.08" />
<line x1="343.9" y1="561.0" x2="394.3" y2="604.2" stroke="#141414" stroke-width="1.08" />
<polyline points="489.5,631.5 504.5,622.5 515.5,630.5" fill="none" stroke="#141414" stroke-width="1.20" stroke-linejoin="round" />
<path d="M315.0,438.0 C313.7,442.5 308.6,456.3 307.0,465.0 C305.4,473.7 305.6,482.5 305.3,490.0 C305.1,497.5 305.1,505.4 305.5,510.0 C305.9,514.5 305.5,513.1 307.4,517.3 C309.3,521.5 312.7,530.1 317.0,535.4 C321.3,540.7 328.7,545.5 333.0,549.3 C337.3,553.1 335.3,552.6 343.0,558.0 C350.7,563.4 365.3,574.1 379.0,581.6 C392.7,589.1 410.6,594.5 425.0,603.0 C439.4,611.5 458.8,627.5 465.5,632.4 L470,600 L430,560 L430.0,558.3 C425.8,556.9 413.3,552.8 405.0,550.0 C396.7,547.2 386.9,544.1 380.0,541.4 C373.1,538.6 368.2,536.5 363.3,533.5 C358.4,530.5 355.2,526.9 350.9,523.3 C346.6,519.7 341.3,516.1 337.3,512.0 C333.3,507.9 329.6,503.4 327.1,498.5 C324.7,493.6 323.0,489.0 322.6,482.6 C322.2,476.2 323.3,467.1 325.0,460.0 C326.7,452.9 331.7,443.3 333.0,440.0 Z" fill="#fff" stroke="none"/>
<path d="M315.0,438.0 C313.7,442.5 308.6,456.3 307.0,465.0 C305.4,473.7 305.6,482.5 305.3,490.0 C305.1,497.5 305.1,505.4 305.5,510.0 C305.9,514.5 305.5,513.1 307.4,517.3 C309.3,521.5 312.7,530.1 317.0,535.4 C321.3,540.7 328.7,545.5 333.0,549.3 C337.3,553.1 335.3,552.6 343.0,558.0 C350.7,563.4 365.3,574.1 379.0,581.6 C392.7,589.1 410.6,594.5 425.0,603.0 C439.4,611.5 458.8,627.5 465.5,632.4" fill="none" stroke="#141414" stroke-width="1.44" stroke-linejoin="round" />
<path d="M305.5,488.0 C306.5,490.9 308.4,499.9 311.3,505.2 C314.2,510.5 317.9,515.9 322.6,520.0 C327.3,524.1 334.1,526.9 339.6,530.1 C345.1,533.3 352.8,537.7 355.4,539.2" fill="none" stroke="#141414" stroke-width="1.32" stroke-linejoin="round" />
<path d="M321.0,437.0 C319.9,440.8 315.7,452.4 314.5,460.0 C313.3,467.6 312.8,475.4 313.6,482.6 C314.4,489.8 316.2,497.3 319.2,503.0 C322.2,508.7 327.4,512.6 331.7,516.6 C336.0,520.6 340.7,523.5 345.2,526.7 C349.7,529.9 356.5,534.3 358.8,535.8" fill="none" stroke="#141414" stroke-width="1.32" stroke-linejoin="round" />
<path d="M333.0,440.0 C331.7,443.3 326.7,452.9 325.0,460.0 C323.3,467.1 322.2,476.2 322.6,482.6 C323.0,489.0 324.7,493.6 327.1,498.5 C329.6,503.4 333.3,507.9 337.3,512.0 C341.3,516.1 346.6,519.7 350.9,523.3 C355.2,526.9 358.4,530.5 363.3,533.5 C368.2,536.5 373.1,538.6 380.0,541.4 C386.9,544.1 396.7,547.2 405.0,550.0 C413.3,552.8 425.8,556.9 430.0,558.3" fill="none" stroke="#141414" stroke-width="1.56" stroke-linejoin="round" />
<path d="M315,438 Q320,432 327,433 Q333,434 334,440 L336,450 L336,466" fill="none" stroke="#141414" stroke-width="1.32" stroke-linejoin="round" />
<line x1="400.6" y1="543.7" x2="430.0" y2="558.3" stroke="#141414" stroke-width="1.20" />
<path d="M356.0,538.6 C361.6,540.7 375.5,547.5 389.3,551.0 C403.1,554.5 422.2,557.8 438.6,559.6 C455.1,561.4 474.8,561.8 488.0,562.0 C501.2,562.2 509.4,561.2 517.6,560.8 C525.8,560.4 533.9,559.7 537.2,559.5 L538.3,590.5 C529.9,591.5 504.6,596.2 488.0,596.6 C471.4,597.0 455.1,595.4 438.6,592.9 C422.2,590.4 403.1,586.1 389.3,581.8 C375.5,577.5 361.6,569.5 356.0,567.0 Z" fill="#ec1c24" stroke="none"/>
<path d="M537.2,559 L547.4,557.1 L547.4,588 L538.3,590.5 Z" fill="#ec1c24" stroke="#b01818" stroke-width="0.6"/>
<path d="M356.0,542.3 C363.3,544.5 385.3,552.0 400.0,555.5 C414.7,559.0 428.8,561.2 444.0,563.0 C459.2,564.8 478.7,565.3 491.0,566.0 C503.3,566.7 509.9,567.2 517.6,567.0 C525.3,566.8 533.8,565.3 537.0,565.0" fill="none" stroke="#9a2a2a" stroke-width="0.96" stroke-linejoin="round" />
<path d="M356.0,538.6 C361.6,540.7 375.5,547.5 389.3,551.0 C403.1,554.5 422.2,557.8 438.6,559.6 C455.1,561.4 474.8,561.8 488.0,562.0 C501.2,562.2 509.4,561.2 517.6,560.8 C525.8,560.4 533.9,559.7 537.2,559.5" fill="none" stroke="#222" stroke-width="1.20" stroke-linejoin="round" />
<path d="M538.3,590.5 C529.9,591.5 504.6,596.2 488.0,596.6 C471.4,597.0 455.1,595.4 438.6,592.9 C422.2,590.4 403.1,586.1 389.3,581.8 C375.5,577.5 361.6,569.5 356.0,567.0" fill="none" stroke="#a01010" stroke-width="0.84" stroke-linejoin="round" />
<line x1="356.5" y1="538.6" x2="356.5" y2="567.0" stroke="#141414" stroke-width="1.20" />
<polygon points="615.5,253.5 649.5,233.5 659.5,233.5 661.5,235.5 677.5,235.5 684.5,239.5 683.5,541.5 620.5,573.5 616.5,573.5 616.5,552.5 615.5,549.5" fill="#fff" stroke="#141414" stroke-width="1.44" stroke-linejoin="round" />
<polygon points="660,237 683.5,238.5 683.5,241 658,240.5" fill="#888"/>
<line x1="652.0" y1="234.0" x2="657.5" y2="238.6" stroke="#141414" stroke-width="1.08" />
<line x1="617.5" y1="256.0" x2="617.5" y2="549.0" stroke="#bbb" stroke-width="1.44" />
<line x1="624.5" y1="258.4" x2="624.5" y2="521.9" stroke="#141414" stroke-width="1.20" />
<line x1="615.2" y1="253.6" x2="624.0" y2="258.4" stroke="#141414" stroke-width="1.20" />
<line x1="623.5" y1="257.8" x2="657.5" y2="238.6" stroke="#141414" stroke-width="1.20" />
<line x1="657.5" y1="238.6" x2="659.5" y2="240.5" stroke="#141414" stroke-width="1.20" />
<line x1="659.5" y1="240.5" x2="684.0" y2="240.5" stroke="#141414" stroke-width="1.20" />
<line x1="620.5" y1="521.9" x2="620.5" y2="573.9" stroke="#141414" stroke-width="1.20" />
<line x1="626.5" y1="521.9" x2="626.5" y2="570.6" stroke="#141414" stroke-width="1.20" />
<line x1="620.0" y1="521.5" x2="626.6" y2="521.5" stroke="#141414" stroke-width="1.20" />
<polygon points="686.5,240.5 690.5,234.5 700.5,235.5 708.5,240.5 710.5,246.5 710.5,541.5 687.5,549.5 686.5,549.5" fill="#fff" stroke="#141414" stroke-width="1.20" stroke-linejoin="round" />
<line x1="696.5" y1="246.0" x2="696.5" y2="548.0" stroke="#141414" stroke-width="1.20" />
<line x1="708.5" y1="246.0" x2="708.5" y2="542.0" stroke="#141414" stroke-width="2.88" />
<path d="M690,234.4 Q686,242 690,246 L706.7,246.4" fill="none" stroke="#141414" stroke-width="1.20" stroke-linejoin="round" />
<path d="M686,250 q2,4 0,8" fill="none" stroke="#141414" stroke-width="1.20" stroke-linejoin="round" />
<path d="M686,271 q2,4 0,8" fill="none" stroke="#141414" stroke-width="1.20" stroke-linejoin="round" />
<path d="M686,292 q2,4 0,8" fill="none" stroke="#141414" stroke-width="1.20" stroke-linejoin="round" />
<path d="M686,313 q2,4 0,8" fill="none" stroke="#141414" stroke-width="1.20" stroke-linejoin="round" />
<path d="M686,334 q2,4 0,8" fill="none" stroke="#141414" stroke-width="1.20" stroke-linejoin="round" />
<path d="M686,355 q2,4 0,8" fill="none" stroke="#141414" stroke-width="1.20" stroke-linejoin="round" />
<path d="M686,376 q2,4 0,8" fill="none" stroke="#141414" stroke-width="1.20" stroke-linejoin="round" />
<path d="M686,397 q2,4 0,8" fill="none" stroke="#141414" stroke-width="1.20" stroke-linejoin="round" />
<path d="M686,418 q2,4 0,8" fill="none" stroke="#141414" stroke-width="1.20" stroke-linejoin="round" />
<path d="M686,439 q2,4 0,8" fill="none" stroke="#141414" stroke-width="1.20" stroke-linejoin="round" />
<path d="M686,460 q2,4 0,8" fill="none" stroke="#141414" stroke-width="1.20" stroke-linejoin="round" />
<path d="M686,481 q2,4 0,8" fill="none" stroke="#141414" stroke-width="1.20" stroke-linejoin="round" />
<path d="M686,502 q2,4 0,8" fill="none" stroke="#141414" stroke-width="1.20" stroke-linejoin="round" />
<path d="M686,523 q2,4 0,8" fill="none" stroke="#141414" stroke-width="1.20" stroke-linejoin="round" />
<line x1="77.4" y1="100.9" x2="273.3" y2="133.6" stroke="#141414" stroke-width="1.20" />
<polygon points="288.4,137.5 272.7,137.4 273.9,129.9 288.8,134.9" fill="#141414"/>
<line x1="77.6" y1="195.0" x2="186.5" y2="211.6" stroke="#141414" stroke-width="1.20" />
<polygon points="201.6,215.2 185.9,215.3 187.0,207.8 202.0,212.6" fill="#141414"/>
<line x1="77.2" y1="421.3" x2="111.9" y2="416.0" stroke="#141414" stroke-width="1.20" />
<polygon points="127.4,414.9 112.5,419.7 111.3,412.2 127.0,412.3" fill="#141414"/>
<line x1="77.2" y1="512.6" x2="227.2" y2="481.7" stroke="#141414" stroke-width="1.20" />
<polygon points="242.7,479.9 228.0,485.4 226.5,478.0 242.1,477.3" fill="#141414"/>
<line x1="75.2" y1="601.3" x2="291.6" y2="523.0" stroke="#141414" stroke-width="1.20" />
<polygon points="306.6,518.9 292.9,526.5 290.3,519.4 305.8,516.5" fill="#141414"/>
<line x1="813.3" y1="55.3" x2="618.1" y2="145.9" stroke="#141414" stroke-width="1.20" />
<polygon points="603.5,151.2 616.5,142.4 619.7,149.3 604.5,153.6" fill="#141414"/>
<line x1="812.0" y1="146.6" x2="615.4" y2="215.5" stroke="#141414" stroke-width="1.20" />
<polygon points="600.4,219.4 614.2,211.9 616.7,219.1 601.2,221.8" fill="#141414"/>
<line x1="811.7" y1="236.6" x2="721.9" y2="255.2" stroke="#141414" stroke-width="1.20" />
<polygon points="706.4,257.1 721.1,251.5 722.6,259.0 707.0,259.7" fill="#141414"/>
<line x1="811.0" y1="323.5" x2="639.5" y2="324.2" stroke="#141414" stroke-width="1.20" />
<polygon points="624.0,323.0 639.5,320.4 639.5,328.0 624.0,325.6" fill="#141414"/>
<line x1="811.7" y1="422.6" x2="552.1" y2="476.0" stroke="#141414" stroke-width="1.20" />
<polygon points="536.6,477.8 551.3,472.3 552.8,479.7 537.2,480.4" fill="#141414"/>
<line x1="810.6" y1="512.6" x2="524.5" y2="533.6" stroke="#141414" stroke-width="1.20" />
<polygon points="508.9,533.4 524.2,529.8 524.7,537.4 509.1,536.0" fill="#141414"/>
<line x1="810.6" y1="602.0" x2="555.3" y2="593.8" stroke="#141414" stroke-width="1.20" />
<polygon points="539.8,592.0 555.4,590.0 555.2,597.6 539.8,594.6" fill="#141414"/>
<line x1="811.3" y1="692.3" x2="562.4" y2="656.7" stroke="#141414" stroke-width="1.20" />
<polygon points="547.3,653.2 563.0,652.9 561.9,660.5 546.9,655.8" fill="#141414"/>
<line x1="161.5" y1="311.5" x2="286.0" y2="288.0" stroke="#141414" stroke-width="1.20" />
<line x1="244.0" y1="269.4" x2="380.0" y2="263.8" stroke="#141414" stroke-width="1.20" />
<ellipse cx="44" cy="95.6" rx="33" ry="32" fill="#fff" stroke="#141414" stroke-width="1.6"/>
<text x="35.38" y="106.50" style="font-family:&quot;Liberation Sans&quot;,sans-serif" font-size="31.0" fill="#111" stroke="#111" stroke-width="0.3">7</text>
<ellipse cx="44" cy="189.6" rx="33" ry="32" fill="#fff" stroke="#141414" stroke-width="1.6"/>
<text x="35.38" y="200.50" style="font-family:&quot;Liberation Sans&quot;,sans-serif" font-size="31.0" fill="#111" stroke="#111" stroke-width="0.3">5</text>
<ellipse cx="44" cy="425.9" rx="33" ry="32" fill="#fff" stroke="#141414" stroke-width="1.6"/>
<text x="35.38" y="436.80" style="font-family:&quot;Liberation Sans&quot;,sans-serif" font-size="31.0" fill="#111" stroke="#111" stroke-width="0.3">9</text>
<ellipse cx="44" cy="520" rx="33" ry="32" fill="#fff" stroke="#141414" stroke-width="1.6"/>
<text x="35.38" y="530.90" style="font-family:&quot;Liberation Sans&quot;,sans-serif" font-size="31.0" fill="#111" stroke="#111" stroke-width="0.3">3</text>
<ellipse cx="44" cy="614" rx="33" ry="32" fill="#fff" stroke="#141414" stroke-width="1.6"/>
<path d="M37.35,624.90 L40.08,624.90 L40.08,603.57 L37.66,603.57 L35.24,605.22 L30.39,608.10 L30.39,610.52 L35.24,607.64 L37.35,606.28 Z" fill="#111" stroke="#111" stroke-width="0.3" stroke-linejoin="miter"/>
<text x="44.00" y="624.90" style="font-family:&quot;Liberation Sans&quot;,sans-serif" font-size="31.0" fill="#111" stroke="#111" stroke-width="0.3">3</text>
<ellipse cx="844" cy="41.4" rx="33" ry="32" fill="#fff" stroke="#141414" stroke-width="1.6"/>
<path d="M837.35,52.30 L840.08,52.30 L840.08,30.97 L837.66,30.97 L835.24,32.62 L830.39,35.50 L830.39,37.92 L835.24,35.04 L837.35,33.68 Z" fill="#111" stroke="#111" stroke-width="0.3" stroke-linejoin="miter"/>
<text x="844.00" y="52.30" style="font-family:&quot;Liberation Sans&quot;,sans-serif" font-size="31.0" fill="#111" stroke="#111" stroke-width="0.3">0</text>
<ellipse cx="844" cy="135.1" rx="33" ry="32" fill="#fff" stroke="#141414" stroke-width="1.6"/>
<path d="M845.98,146.00 L848.70,146.00 L848.70,124.67 L846.28,124.67 L843.86,126.32 L839.01,129.20 L839.01,131.62 L843.86,128.74 L845.98,127.38 Z" fill="#111" stroke="#111" stroke-width="0.3" stroke-linejoin="miter"/>
<ellipse cx="844" cy="228.6" rx="33" ry="32" fill="#fff" stroke="#141414" stroke-width="1.6"/>
<text x="835.38" y="239.50" style="font-family:&quot;Liberation Sans&quot;,sans-serif" font-size="31.0" fill="#111" stroke="#111" stroke-width="0.3">6</text>
<ellipse cx="844" cy="322" rx="33" ry="32" fill="#fff" stroke="#141414" stroke-width="1.6"/>
<text x="835.38" y="332.90" style="font-family:&quot;Liberation Sans&quot;,sans-serif" font-size="31.0" fill="#111" stroke="#111" stroke-width="0.3">4</text>
<ellipse cx="844" cy="416" rx="33" ry="32" fill="#fff" stroke="#141414" stroke-width="1.6"/>
<text x="835.38" y="426.90" style="font-family:&quot;Liberation Sans&quot;,sans-serif" font-size="31.0" fill="#111" stroke="#111" stroke-width="0.3">8</text>
<ellipse cx="844" cy="509.3" rx="33" ry="32" fill="#fff" stroke="#141414" stroke-width="1.6"/>
<text x="835.38" y="520.20" style="font-family:&quot;Liberation Sans&quot;,sans-serif" font-size="31.0" fill="#111" stroke="#111" stroke-width="0.3">2</text>
<ellipse cx="844" cy="603" rx="33" ry="32" fill="#fff" stroke="#141414" stroke-width="1.6"/>
<path d="M837.35,613.90 L840.08,613.90 L840.08,592.57 L837.66,592.57 L835.24,594.22 L830.39,597.10 L830.39,599.52 L835.24,596.64 L837.35,595.28 Z" fill="#111" stroke="#111" stroke-width="0.3" stroke-linejoin="miter"/>
<text x="844.00" y="613.90" style="font-family:&quot;Liberation Sans&quot;,sans-serif" font-size="31.0" fill="#111" stroke="#111" stroke-width="0.3">2</text>
<ellipse cx="844" cy="697" rx="33" ry="32" fill="#fff" stroke="#141414" stroke-width="1.6"/>
<path d="M837.35,707.90 L840.08,707.90 L840.08,686.57 L837.66,686.57 L835.24,688.22 L830.39,691.10 L830.39,693.52 L835.24,690.64 L837.35,689.28 Z" fill="#111" stroke="#111" stroke-width="0.3" stroke-linejoin="miter"/>
<path d="M854.60,707.90 L857.32,707.90 L857.32,686.57 L854.90,686.57 L852.48,688.22 L847.63,691.10 L847.63,693.52 L852.48,690.64 L854.60,689.28 Z" fill="#111" stroke="#111" stroke-width="0.3" stroke-linejoin="miter"/></svg>
</body></html>
